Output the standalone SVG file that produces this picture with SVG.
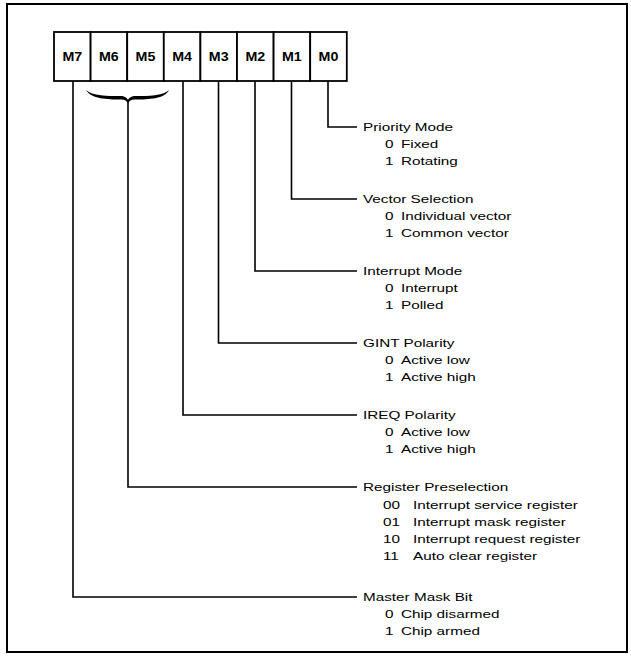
<svg xmlns="http://www.w3.org/2000/svg" width="631" height="656" viewBox="0 0 631 656">
<style>
.frame{fill:none;stroke:#000;stroke-width:2}
.box{fill:#fff;stroke:#000;stroke-width:1.8}
.lbl{font-family:"Liberation Sans",Arial,sans-serif;font-weight:bold;font-size:12.5px;text-anchor:middle;fill:#000}
.t{font-family:"Liberation Sans",Arial,sans-serif;font-size:11.5px;fill:#000}
.conn{fill:none;stroke:#000;stroke-width:1.6}
</style>
<rect width="631" height="656" fill="#fff"/>
<rect class="frame" x="7" y="4" width="620" height="648"/>
<g id="register">
<g id="M7"><rect class="box" x="54" y="32" width="36.6" height="49"/><text class="lbl" transform="translate(72.3 61) scale(1.14 1)">M7</text></g>
<g id="M6"><rect class="box" x="90.6" y="32" width="36.6" height="49"/><text class="lbl" transform="translate(108.9 61) scale(1.14 1)">M6</text></g>
<g id="M5"><rect class="box" x="127.2" y="32" width="36.6" height="49"/><text class="lbl" transform="translate(145.5 61) scale(1.14 1)">M5</text></g>
<g id="M4"><rect class="box" x="163.8" y="32" width="36.6" height="49"/><text class="lbl" transform="translate(182.1 61) scale(1.14 1)">M4</text></g>
<g id="M3"><rect class="box" x="200.4" y="32" width="36.6" height="49"/><text class="lbl" transform="translate(218.7 61) scale(1.14 1)">M3</text></g>
<g id="M2"><rect class="box" x="237" y="32" width="36.6" height="49"/><text class="lbl" transform="translate(255.3 61) scale(1.14 1)">M2</text></g>
<g id="M1"><rect class="box" x="273.6" y="32" width="36.6" height="49"/><text class="lbl" transform="translate(291.9 61) scale(1.14 1)">M1</text></g>
<g id="M0"><rect class="box" x="310.2" y="32" width="36.6" height="49"/><text class="lbl" transform="translate(328.5 61) scale(1.14 1)">M0</text></g>
</g>
<g id="brace">
<path d="M86,90 C91,99 108,99.5 120,99.5 C125,99.5 127,101 128,103.5 C129,101 131,99.5 136,99.5 C148,99.5 165,99 169,90 C163,96 148,96 136,96 C131,96 129,98 128,100 C127,98 125,96 120,96 C108,96 92,96 86,90 Z" fill="#000"/>
</g>
<g id="connectors">
<polyline class="conn" points="328,81 328,127 357,127"/>
<polyline class="conn" points="291.5,81 291.5,199 357,199"/>
<polyline class="conn" points="255,81 255,271 357,271"/>
<polyline class="conn" points="218.5,81 218.5,343 357,343"/>
<polyline class="conn" points="183,81 183,415 357,415"/>
<polyline class="conn" points="128,101 128,487 357,487"/>
<polyline class="conn" points="73,81 73,597 357,597"/>
</g>
<g id="priority">
<text class="t" transform="translate(363 131) scale(1.33 1)">Priority Mode</text>
<text class="t" transform="translate(385 148) scale(1.33 1)"><tspan>0</tspan><tspan x="12">Fixed</tspan></text>
<text class="t" transform="translate(385 165) scale(1.33 1)"><tspan>1</tspan><tspan x="12">Rotating</tspan></text>
</g>
<g id="vector">
<text class="t" transform="translate(363 203) scale(1.33 1)">Vector Selection</text>
<text class="t" transform="translate(385 220) scale(1.33 1)"><tspan>0</tspan><tspan x="12">Individual vector</tspan></text>
<text class="t" transform="translate(385 237) scale(1.33 1)"><tspan>1</tspan><tspan x="12">Common vector</tspan></text>
</g>
<g id="intmode">
<text class="t" transform="translate(363 275) scale(1.33 1)">Interrupt Mode</text>
<text class="t" transform="translate(385 292) scale(1.33 1)"><tspan>0</tspan><tspan x="12">Interrupt</tspan></text>
<text class="t" transform="translate(385 309) scale(1.33 1)"><tspan>1</tspan><tspan x="12">Polled</tspan></text>
</g>
<g id="gint">
<text class="t" transform="translate(363 347) scale(1.33 1)">GINT Polarity</text>
<text class="t" transform="translate(385 364) scale(1.33 1)"><tspan>0</tspan><tspan x="12">Active low</tspan></text>
<text class="t" transform="translate(385 381) scale(1.33 1)"><tspan>1</tspan><tspan x="12">Active high</tspan></text>
</g>
<g id="ireq">
<text class="t" transform="translate(363 419) scale(1.33 1)">IREQ Polarity</text>
<text class="t" transform="translate(385 436) scale(1.33 1)"><tspan>0</tspan><tspan x="12">Active low</tspan></text>
<text class="t" transform="translate(385 453) scale(1.33 1)"><tspan>1</tspan><tspan x="12">Active high</tspan></text>
</g>
<g id="regpre">
<text class="t" transform="translate(363 491) scale(1.33 1)">Register Preselection</text>
<text class="t" transform="translate(383 509) scale(1.33 1)"><tspan>00</tspan><tspan x="22.6">Interrupt service register</tspan></text>
<text class="t" transform="translate(383 526) scale(1.33 1)"><tspan>01</tspan><tspan x="22.6">Interrupt mask register</tspan></text>
<text class="t" transform="translate(383 543) scale(1.33 1)"><tspan>10</tspan><tspan x="22.6">Interrupt request register</tspan></text>
<text class="t" transform="translate(383 560) scale(1.33 1)"><tspan>11</tspan><tspan x="22.6">Auto clear register</tspan></text>
</g>
<g id="master">
<text class="t" transform="translate(363 601) scale(1.33 1)">Master Mask Bit</text>
<text class="t" transform="translate(385 618) scale(1.33 1)"><tspan>0</tspan><tspan x="12">Chip disarmed</tspan></text>
<text class="t" transform="translate(385 635) scale(1.33 1)"><tspan>1</tspan><tspan x="12">Chip armed</tspan></text>
</g>
</svg>
